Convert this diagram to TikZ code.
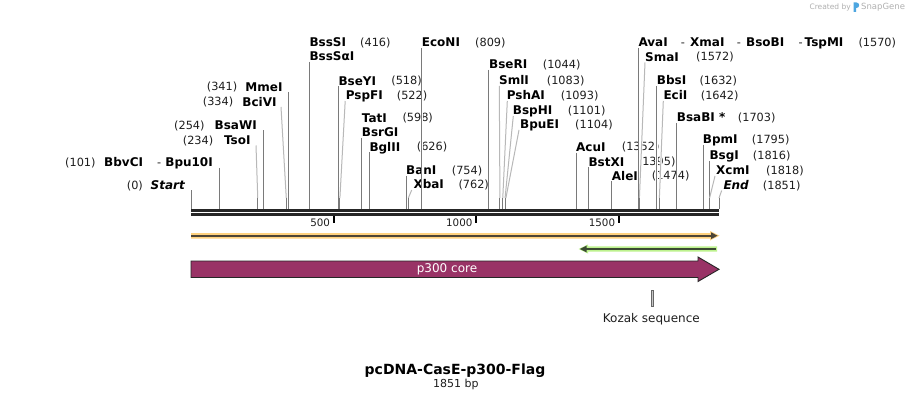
\documentclass[tikz,border=0pt]{standalone}
\usepackage{fontspec}
\setmainfont{DejaVu Sans}
\usetikzlibrary{calc}
\pgfdeclarelayer{halo}
\pgfdeclarelayer{cuts}
\pgfdeclarelayer{front}
\pgfsetlayers{main,halo,cuts,front}
\definecolor{cutgray}{HTML}{7A7A7A}
\definecolor{anggray}{HTML}{B8B8B8}
\definecolor{bbone}{HTML}{262626}
\definecolor{numcol}{HTML}{1E1E1E}
\definecolor{orangeband}{HTML}{FFD27F}
\definecolor{darkfeat}{HTML}{4D4536}
\definecolor{greenband}{HTML}{BDF28E}
\definecolor{darkgreen}{HTML}{3B4A32}
\definecolor{p300col}{HTML}{993366}
\definecolor{creditgray}{HTML}{B0B0B0}
\definecolor{logoblue}{HTML}{4DA6E0}
\tikzset{
  enz/.style={font=\fontsize{12}{14}\selectfont\bfseries, inner sep=0pt, text height=8.75pt, text depth=0pt, text=black},
  enzL/.style={enz, anchor=east},
  enzR/.style={enz, anchor=west},
  num/.style={font=\fontsize{11.3}{13}\selectfont, inner sep=0pt, text height=8.3pt, text depth=0pt, text=numcol, anchor=west},
  halo/.style={white, line width=2.2pt},
  cutline/.style={cutgray, line width=1pt},
  angline/.style={anggray, line width=1pt},
  tickmark/.style={black, line width=2pt},
  ticklabel/.style={font=\fontsize{10.3}{12}\selectfont, inner sep=0pt, text height=7.5pt, text depth=0pt, anchor=east, text=numcol},
  credit/.style={font=\fontsize{7.5}{9}\selectfont, text=creditgray, inner sep=0pt},
}
\newcommand\cutS[3]{%
  \coordinate (#1t) at ({191+#2*0.2852512},#3);
  \coordinate (#1s) at ({191+#2*0.2852512},209);
  \begin{pgfonlayer}{halo}\draw[halo] (#1t) -- (#1s);\end{pgfonlayer}
  \begin{pgfonlayer}{cuts}\draw[cutline] (#1t) -- (#1s);\end{pgfonlayer}}
\newcommand\cutA[4]{%
  \coordinate (#1t) at (#3,#4);
  \coordinate (#1k) at ({191+#2*0.2852512},198);
  \coordinate (#1s) at ({191+#2*0.2852512},209);
  \begin{pgfonlayer}{halo}\draw[halo] (#1t) -- (#1k) -- (#1s);\end{pgfonlayer}
  \begin{pgfonlayer}{cuts}\draw[angline] (#1t) -- (#1k);\draw[cutline] (#1k) -- (#1s);\end{pgfonlayer}}
\begin{document}
\begin{tikzpicture}[x=1pt,y=-1pt]
\useasboundingbox (0,0) rectangle (911,401);
\fill[white] (0,0) rectangle (911,401);

% ---------- left labels ----------
\node[num] (n0) at (126.7,185) {(0)};
\node[enzL] (start) at (185,185) {\itshape Start};
\cutS{c0}{0}{190.5}
\node[num] (n101) at (65,162) {(101)};
\node[enzR] (bbvci) at (104,162) {BbvCI};
\node[num] (d101) at (157,162) {-};
\node[enzL] (bpu10i) at (213,162) {Bpu10I};
\cutS{c101}{101}{168}
\node[num] (n234) at (182.7,140) {(234)};
\node[enzL] (tsoi) at (250.7,140) {TsoI};
\cutA{c234}{234}{256}{145.5}
\node[num] (n254) at (174,125) {(254)};
\node[enzL] (bsawi) at (257,125) {BsaWI};
\cutS{c254}{254}{130.5}
\node[num] (n334) at (202.7,101.7) {(334)};
\node[enzL] (bcivi) at (276.7,101.7) {BciVI};
\cutA{c334}{334}{281}{107}
\node[num] (n341) at (206.7,86.7) {(341)};
\node[enzL] (mmei) at (282.7,86.7) {MmeI};
\cutS{c341}{341}{92}

% ---------- right labels ----------
\node[enzR] (bsssi) at (309.3,42.3) {BssSI};
\node[num] (n416) at (360,42.3) {(416)};
\node[enzR] (bsssai) at (309.3,56) {BssSαI};
\cutS{c416}{416}{62}
\node[enzR] (econi) at (421.7,42.3) {EcoNI};
\node[num] (n809) at (475,42.3) {(809)};
\cutS{c809}{809}{48.3}
\node[enzR] (bseyi) at (338.3,80.7) {BseYI};
\node[num] (n518) at (391.2,80.7) {(518)};
\cutS{c518}{518}{86.5}
\node[enzR] (pspfi) at (345.7,95) {PspFI};
\node[num] (n522) at (396.7,95) {(522)};
\cutA{c522}{522}{345.2}{101}
\node[enzR] (tati) at (361.7,117.7) {TatI};
\node[num] (n598) at (402.3,117.7) {(598)};
\node[enzR] (bsrgi) at (361.7,132.3) {BsrGI};
\cutS{c598}{598}{138}
\node[enzR] (bglii) at (369.3,146.7) {BglII};
\node[num] (n626) at (416.7,146.7) {(626)};
\cutS{c626}{626}{152.5}
\node[enzR] (bani) at (406,170) {BanI};
\node[num] (n754) at (451.7,170) {(754)};
\cutS{c754}{754}{176}
\node[enzR] (xbai) at (413.3,184.3) {XbaI};
\node[num] (n762) at (458.3,184.3) {(762)};
\cutA{c762}{762}{411.7}{190}
\node[enzR] (bseri) at (489,64.3) {BseRI};
\node[num] (n1044) at (542.7,64.3) {(1044)};
\cutS{c1044}{1044}{70}
\node[enzR] (smli) at (499,80) {SmlI};
\node[num] (n1083) at (546.7,80) {(1083)};
\cutA{c1083}{1083}{499.3}{86}
\node[enzR] (pshai) at (506.7,95) {PshAI};
\node[num] (n1093) at (560.7,95) {(1093)};
\cutA{c1093}{1093}{507.3}{101}
\node[enzR] (bsphi) at (512.7,110) {BspHI};
\node[num] (n1101) at (567.7,110) {(1101)};
\cutA{c1101}{1101}{513.3}{116}
\node[enzR] (bpuei) at (520,124.3) {BpuEI};
\node[num] (n1104) at (575,124.3) {(1104)};
\cutA{c1104}{1104}{519}{130}
\node[enzR] (acui) at (576,146.7) {AcuI};
\node[num] (n1352) at (621.7,146.7) {(1352)};
\cutS{c1352}{1352}{153}
\node[enzR] (bstxi) at (588.3,161.7) {BstXI};
\node[num] (n1395) at (637.7,161.7) {(1395)};
\cutS{c1395}{1395}{167.5}
\node[enzR] (alei) at (611.7,175.7) {AleI};
\node[num] (n1474) at (651.7,175.7) {(1474)};
\cutS{c1474}{1474}{181.5}
\node[enzR] (avai) at (638.3,42.3) {AvaI};
\node[num] (d1) at (680.7,42.3) {-};
\node[enzR] (xmai) at (690,42.3) {XmaI};
\node[num] (d2) at (736.7,42.3) {-};
\node[enzR] (bsobi) at (746,42.3) {BsoBI};
\node[num] (d3) at (798.3,42.3) {-};
\node[enzR] (tspmi) at (804.5,42.3) {TspMI};
\node[num] (n1570) at (858.3,42.3) {(1570)};
\cutS{c1570}{1570}{48}
\node[enzR] (smai) at (645,56.7) {SmaI};
\node[num] (n1572) at (696,56.7) {(1572)};
\cutA{c1572}{1572}{645}{62.5}
\node[enzR] (bbsi) at (656.7,80) {BbsI};
\node[num] (n1632) at (699.3,80) {(1632)};
\cutS{c1632}{1632}{86}
\node[enzR] (ecii) at (663.3,95) {EciI};
\node[num] (n1642) at (700.7,95) {(1642)};
\cutA{c1642}{1642}{663.3}{101}
\node[enzR] (bsabi) at (676.7,117.3) {BsaBI *};
\node[num] (n1703) at (737.7,117.3) {(1703)};
\cutS{c1703}{1703}{123}
\node[enzR] (bpmi) at (702.7,139.3) {BpmI};
\node[num] (n1795) at (751.7,139.3) {(1795)};
\cutS{c1795}{1795}{145}
\node[enzR] (bsgi) at (709.3,155) {BsgI};
\node[num] (n1816) at (752.7,155) {(1816)};
\cutS{c1816}{1816}{161}
\node[enzR] (xcmi) at (716,170) {XcmI};
\node[num] (n1818) at (766,170) {(1818)};
\cutA{c1818}{1818}{715}{176}
\node[enzR] (endl) at (723.3,185) {\itshape End};
\node[num] (n1851) at (762.7,185) {(1851)};
\cutA{c1851}{1851}{721.7}{190.5}

% ---------- backbone ----------
\begin{pgfonlayer}{front}
\fill[bbone] (191,209) rectangle (719,212);
\fill[bbone] (191,213) rectangle (719,216);
\end{pgfonlayer}
\draw[tickmark] (333.6,216) -- (333.6,222.5);
\draw[tickmark] (476.2,216) -- (476.2,222.5);
\draw[tickmark] (618.9,216) -- (618.9,222.5);
\node[ticklabel] (t500) at (330.2,222.5) {500};
\node[ticklabel] (t1000) at (472.6,222.5) {1000};
\node[ticklabel] (t1500) at (615.3,222.5) {1500};

% ---------- orange feature ----------
\fill[orangeband] (191,233) -- (710,233) -- (710,231) -- (719.5,235.7) -- (710,240.5) -- (710,238.7) -- (191,238.7) -- cycle;
\draw[darkfeat, line width=2pt] (191,235.7) -- (712,235.7);
\fill[darkfeat] (711,232.3) -- (717.5,235.7) -- (711,239.1) -- cycle;

% ---------- green feature ----------
\fill[greenband] (717,246.3) -- (588,246.3) -- (588,244.5) -- (578.5,249) -- (588,253.5) -- (588,251.7) -- (717,251.7) -- cycle;
\draw[darkgreen, line width=2pt] (715.5,249) -- (585,249);
\fill[darkgreen] (586.5,245.6) -- (580,249) -- (586.5,252.4) -- cycle;

% ---------- p300 core ----------
\filldraw[fill=p300col, draw=bbone, line width=0.9pt]
  (191,261) -- (698,261) -- (698,257) -- (719,269.3) -- (698,281.5) -- (698,277.5) -- (191,277.5) -- cycle;
\node[font=\fontsize{12}{14}\selectfont, text=white, inner sep=0pt] (p300) at (447,269.3) {p300 core};

% ---------- Kozak ----------
\filldraw[fill=gray!45, draw=gray!80!black, line width=0.7pt] (651.2,290) rectangle (653.6,306.5);
\node[font=\fontsize{12}{14}\selectfont, text=numcol, inner sep=0pt] (kozak) at (651.3,319.5) {Kozak sequence};

% ---------- title ----------
\node[font=\fontsize{14}{16}\selectfont\bfseries, inner sep=0pt] (title) at (455,370.5) {pcDNA-CasE-p300-Flag};
\node[font=\fontsize{11}{13}\selectfont, text=numcol, inner sep=0pt] (bp) at (455.8,384.5) {1851 bp};

% ---------- credit ----------
\node[credit, anchor=east] (created) at (851,7) {Created by};
\fill[logoblue] (853.5,12) -- (853.5,2.5) -- (856.5,2.5) .. controls (860,2.5) and (860,8) .. (856.5,8) -- (856,8) -- (856,12) -- cycle;
\node[credit, anchor=west, font=\fontsize{8.5}{10}\selectfont] (snapgene) at (861,7) {SnapGene};
\end{tikzpicture}
\end{document}
